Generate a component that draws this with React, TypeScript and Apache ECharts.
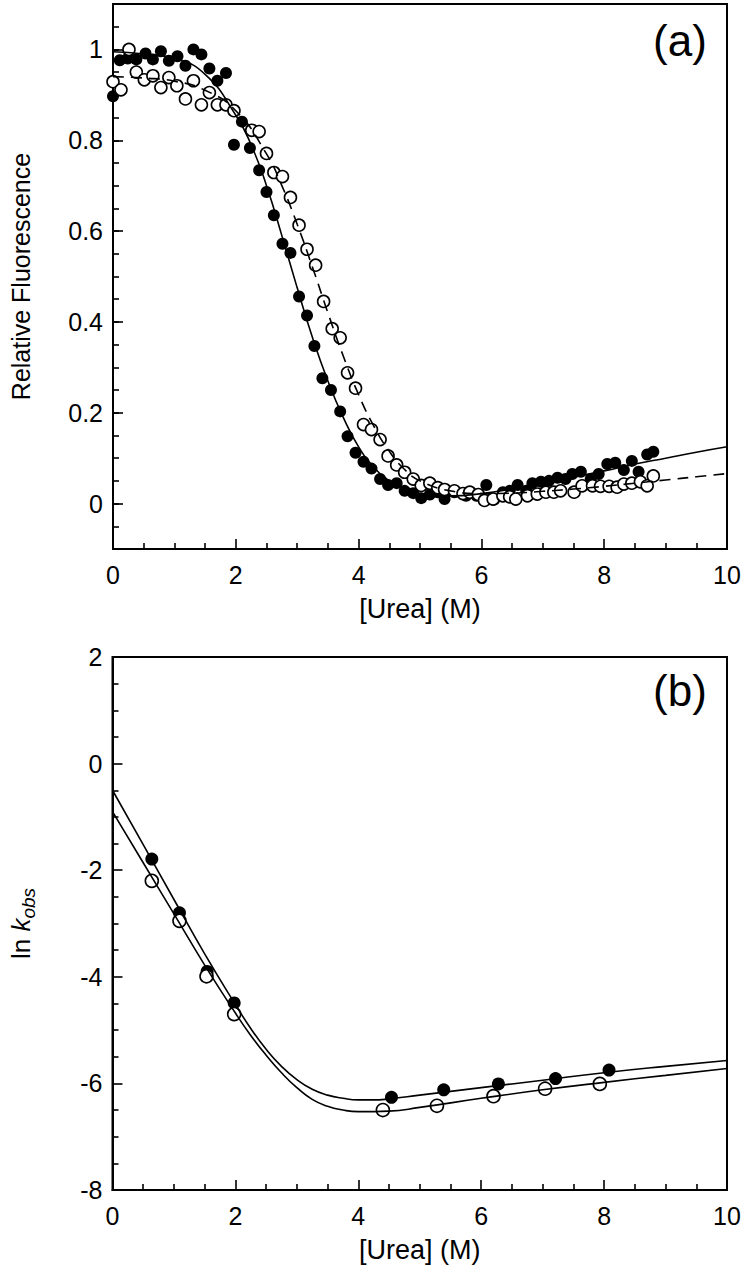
import React, { useEffect, useRef } from "react";
import * as echarts from "echarts";

const FONT = "Liberation Sans";

// Panel (a): relative fluorescence vs [urea]
const filledA: number[][] = [
  [0, 0.897], [0.11, 0.976], [0.24, 0.98], [0.38, 0.978], [0.53, 0.991], [0.65, 0.978], [0.78, 0.996],
  [0.91, 0.975], [1.05, 0.985], [1.18, 0.964], [1.31, 1.0], [1.44, 0.989], [1.57, 0.958], [1.7, 0.931],
  [1.84, 0.948], [1.97, 0.79], [2.1, 0.841], [2.23, 0.783], [2.38, 0.734], [2.5, 0.686], [2.62, 0.635],
  [2.76, 0.572], [2.89, 0.552], [3.03, 0.456], [3.16, 0.414], [3.28, 0.347], [3.41, 0.276], [3.55, 0.25],
  [3.7, 0.203], [3.82, 0.148], [3.95, 0.112], [4.08, 0.092], [4.21, 0.077], [4.35, 0.054], [4.48, 0.041],
  [4.62, 0.045], [4.75, 0.028], [4.89, 0.023], [5.02, 0.012], [5.16, 0.02], [5.29, 0.025], [5.4, 0.01],
  [5.56, 0.025], [5.75, 0.017], [5.92, 0.017], [6.08, 0.041], [6.21, 0.009], [6.35, 0.025], [6.46, 0.028],
  [6.59, 0.041], [6.73, 0.028], [6.83, 0.045], [6.97, 0.048], [7.1, 0.05], [7.24, 0.057], [7.37, 0.054],
  [7.48, 0.065], [7.62, 0.07], [7.78, 0.054], [7.91, 0.065], [8.05, 0.087], [8.18, 0.09], [8.32, 0.074],
  [8.45, 0.094], [8.56, 0.07], [8.7, 0.108], [8.8, 0.114],
];
const openA: number[][] = [
  [0, 0.929], [0.13, 0.911], [0.26, 1.0], [0.38, 0.95], [0.51, 0.933], [0.65, 0.942], [0.78, 0.916],
  [0.91, 0.938], [1.04, 0.92], [1.18, 0.891], [1.31, 0.931], [1.44, 0.878], [1.57, 0.905], [1.7, 0.878],
  [1.84, 0.878], [1.97, 0.865], [2.26, 0.822], [2.38, 0.819], [2.5, 0.771], [2.62, 0.729], [2.76, 0.72],
  [2.89, 0.674], [3.03, 0.613], [3.16, 0.56], [3.3, 0.525], [3.43, 0.445], [3.57, 0.385], [3.7, 0.365],
  [3.82, 0.288], [3.95, 0.254], [4.08, 0.174], [4.21, 0.163], [4.35, 0.141], [4.48, 0.105], [4.62, 0.085],
  [4.75, 0.069], [4.89, 0.054], [5.02, 0.04], [5.16, 0.045], [5.29, 0.035], [5.4, 0.031], [5.56, 0.028],
  [5.7, 0.022], [5.81, 0.025], [5.95, 0.02], [6.05, 0.007], [6.19, 0.01], [6.35, 0.017], [6.46, 0.015],
  [6.56, 0.01], [6.75, 0.017], [6.91, 0.021], [7.05, 0.025], [7.18, 0.025], [7.29, 0.028], [7.51, 0.025],
  [7.64, 0.039], [7.81, 0.039], [7.94, 0.038], [8.08, 0.038], [8.21, 0.036], [8.32, 0.043], [8.45, 0.045],
  [8.59, 0.048], [8.7, 0.039], [8.8, 0.061],
];
const fitSolidA: number[][] = [
  [0, 0.995], [0.5, 0.99], [1, 0.98], [1.5, 0.945], [2, 0.855], [2.25, 0.79], [2.5, 0.7], [2.75, 0.59],
  [3, 0.475], [3.25, 0.365], [3.5, 0.27], [3.75, 0.19], [4, 0.125], [4.25, 0.08], [4.5, 0.05], [4.75, 0.032],
  [5, 0.022], [5.5, 0.017], [6, 0.022], [6.5, 0.032], [7, 0.045], [7.5, 0.058], [8, 0.072], [8.5, 0.087],
  [9, 0.1], [9.5, 0.113], [10, 0.125],
];
const fitDashedA: number[][] = [
  [0, 0.94], [0.5, 0.937], [1, 0.93], [1.5, 0.91], [2, 0.865], [2.5, 0.77], [2.75, 0.7], [3, 0.615],
  [3.25, 0.52], [3.5, 0.42], [3.75, 0.325], [4, 0.24], [4.25, 0.17], [4.5, 0.115], [4.75, 0.075], [5, 0.05],
  [5.5, 0.028], [6, 0.022], [6.5, 0.023], [7, 0.027], [7.5, 0.032], [8, 0.038], [8.5, 0.045], [9, 0.052],
  [9.5, 0.059], [10, 0.066],
];

// Panel (b): ln k_obs vs [urea]
const filledB: number[][] = [
  [0.64, -1.79], [1.09, -2.8], [1.54, -3.9], [1.98, -4.49],
  [4.54, -6.26], [5.39, -6.12], [6.28, -6.01], [7.21, -5.91], [8.08, -5.75],
];
const openB: number[][] = [
  [0.64, -2.2], [1.09, -2.95], [1.53, -3.99], [1.98, -4.7],
  [4.4, -6.5], [5.28, -6.42], [6.2, -6.24], [7.04, -6.1], [7.93, -6.01],
];
const fitUpperB: number[][] = [
  [0, -0.5], [0.5, -1.52], [1, -2.55], [1.5, -3.57], [2, -4.52], [2.25, -4.97], [2.5, -5.36], [2.75, -5.68],
  [3, -5.93], [3.25, -6.11], [3.5, -6.22], [3.75, -6.28], [4, -6.31], [4.25, -6.31], [4.5, -6.29], [5, -6.22],
  [6, -6.08], [7, -5.94], [8, -5.8], [9, -5.68], [10, -5.57],
];
const fitLowerB: number[][] = [
  [0, -0.9], [0.5, -1.86], [1, -2.82], [1.5, -3.78], [2, -4.68], [2.25, -5.1], [2.5, -5.47], [2.75, -5.8],
  [3, -6.08], [3.25, -6.3], [3.5, -6.43], [3.75, -6.5], [4, -6.53], [4.5, -6.52], [5, -6.45], [6, -6.28],
  [7, -6.12], [8, -5.98], [9, -5.85], [10, -5.72],
];

const majorTicksA = [0, 0.2, 0.4, 0.6, 0.8, 1];

export default function App() {
  const ref = useRef<HTMLDivElement>(null);
  useEffect(() => {
    const chart = echarts.init(ref.current!, null, { renderer: "svg" });
    const black = "#000";
    const AW = 2;
    const labelStyle = { color: black, fontSize: 25, fontFamily: FONT };
    const nameStyle = { color: black, fontSize: 27, fontFamily: FONT };
    const xAxis = (gridIndex: number) => ({
      type: "value",
      gridIndex,
      min: 0,
      max: 10,
      interval: 2,
      axisLine: { show: true, onZero: false, lineStyle: { color: black, width: AW } },
      axisTick: { show: true, inside: true, length: 10, lineStyle: { color: black, width: 1.6 } },
      minorTick: { show: true, splitNumber: 4, length: 6, lineStyle: { color: black, width: 1.6 } },
      splitLine: { show: false },
      minorSplitLine: { show: false },
      axisLabel: { ...labelStyle, margin: 13 },
      name: "[Urea] (M)",
      nameLocation: "middle",
      nameGap: 46,
      nameTextStyle: nameStyle,
    });
    chart.setOption({
      animation: false,
      backgroundColor: "#fff",
      grid: [
        { left: 110, top: 4, width: 617, height: 545, show: true, borderColor: black, borderWidth: AW },
        { left: 110, top: 657, width: 617, height: 533, show: true, borderColor: black, borderWidth: AW },
      ],
      xAxis: [xAxis(0), xAxis(1)],
      yAxis: [
        {
          type: "value",
          gridIndex: 0,
          min: -0.1,
          max: 1.1,
          interval: 0.05,
          axisLine: { show: true, onZero: false, lineStyle: { color: black, width: AW } },
          axisTick: { show: true, inside: true, length: 6, lineStyle: { color: black, width: 1.6 } },
          splitLine: { show: false },
          axisLabel: {
            ...labelStyle,
            margin: 10,
            formatter: (v: number) => {
              const r = Math.round(v * 5);
              if (Math.abs(v * 5 - r) > 1e-6) return "";
              const val = r / 5;
              if (r === 0) return "0";
              if (r === 5) return "1";
              return val.toFixed(1);
            },
          },
          name: "Relative Fluorescence",
          nameLocation: "middle",
          nameGap: 80,
          nameTextStyle: { ...nameStyle, fontSize: 25 },
        },
        {
          type: "value",
          gridIndex: 0,
          min: -0.1,
          max: 1.1,
          interval: 0.05,
          position: "left",
          axisLine: { show: false },
          axisTick: {
            show: true,
            inside: true,
            length: 10,
            customValues: majorTicksA,
            lineStyle: { color: black, width: 1.6 },
          },
          axisLabel: { show: false },
          splitLine: { show: false },
        },
        {
          type: "value",
          gridIndex: 1,
          min: -8,
          max: 2,
          interval: 2,
          axisLine: { show: true, onZero: false, lineStyle: { color: black, width: AW } },
          axisTick: { show: true, inside: true, length: 10, lineStyle: { color: black, width: 1.6 } },
          minorTick: { show: true, splitNumber: 4, length: 6, lineStyle: { color: black, width: 1.6 } },
          splitLine: { show: false },
          minorSplitLine: { show: false },
          axisLabel: { ...labelStyle, margin: 10 },
          name: "{a|ln }{k|k}{s|obs}",
          nameLocation: "middle",
          nameGap: 75,
          nameTextStyle: {
            color: black,
            fontFamily: FONT,
            rich: {
              a: { fontSize: 26, fontFamily: FONT, color: black },
              k: { fontSize: 26, fontFamily: FONT, color: black, fontStyle: "italic" },
              s: { fontSize: 19, fontFamily: FONT, color: black, fontStyle: "italic", padding: [14, 0, 0, 0] },
            },
          },
        },
      ],
      graphic: [
        { type: "text", x: 680, y: 40, style: { text: "(a)", fill: black, font: `44px "${FONT}"`, align: "center", verticalAlign: "middle" } },
        { type: "text", x: 680, y: 690, style: { text: "(b)", fill: black, font: `44px "${FONT}"`, align: "center", verticalAlign: "middle" } },
      ],
      series: [
        {
          type: "scatter", xAxisIndex: 0, yAxisIndex: 0, data: filledA, symbol: "circle", symbolSize: 12,
          itemStyle: { color: black, opacity: 1 }, z: 2,
        },
        {
          type: "scatter", xAxisIndex: 0, yAxisIndex: 0, data: openA, symbol: "circle", symbolSize: 12,
          itemStyle: { color: "#fff", borderColor: black, borderWidth: 1.6, opacity: 1 }, z: 3,
        },
        {
          type: "line", xAxisIndex: 0, yAxisIndex: 0, data: fitSolidA, showSymbol: false, smooth: true,
          lineStyle: { color: black, width: 1.6 }, z: 4,
        },
        {
          type: "line", xAxisIndex: 0, yAxisIndex: 0, data: fitDashedA, showSymbol: false, smooth: true,
          lineStyle: { color: black, width: 1.6, type: [11, 7] }, z: 4,
        },
        {
          type: "scatter", xAxisIndex: 1, yAxisIndex: 2, data: filledB, symbol: "circle", symbolSize: 13,
          itemStyle: { color: black, opacity: 1 }, z: 2,
        },
        {
          type: "scatter", xAxisIndex: 1, yAxisIndex: 2, data: openB, symbol: "circle", symbolSize: 13,
          itemStyle: { color: "#fff", borderColor: black, borderWidth: 1.6, opacity: 1 }, z: 3,
        },
        {
          type: "line", xAxisIndex: 1, yAxisIndex: 2, data: fitUpperB, showSymbol: false, smooth: true,
          lineStyle: { color: black, width: 1.6 }, z: 4,
        },
        {
          type: "line", xAxisIndex: 1, yAxisIndex: 2, data: fitLowerB, showSymbol: false, smooth: true,
          lineStyle: { color: black, width: 1.6 }, z: 4,
        },
      ],
    });
    return () => chart.dispose();
  }, []);
  return (
    <div
      ref={ref}
      style={{ position: "absolute", left: 0, top: 0, width: 744, height: 1280, background: "#fff" }}
    />
  );
}
